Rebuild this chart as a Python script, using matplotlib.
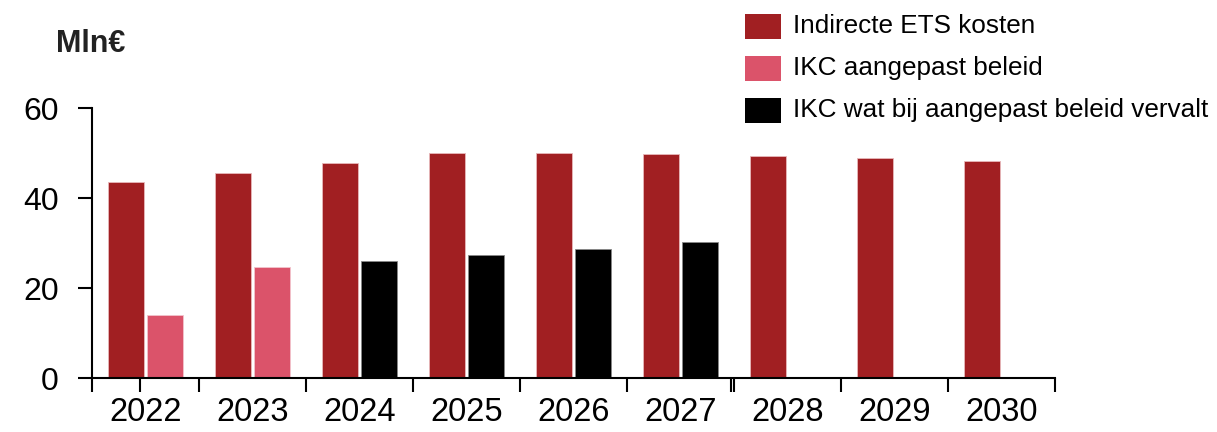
import matplotlib.pyplot as plt
from matplotlib.patches import Rectangle

plt.rcParams['font.family'] = ['Liberation Sans', 'DejaVu Sans']

years = ['2022', '2023', '2024', '2025', '2026', '2027', '2028', '2029', '2030']
ets_kosten = [43.6, 45.6, 47.8, 50.0, 50.0, 49.8, 49.3, 48.9, 48.2]
ikc_aangepast = [14.0, 24.7, 0, 0, 0, 0, 0, 0, 0]
ikc_vervalt = [0, 0, 26.0, 27.3, 28.7, 30.2, 0, 0, 0]

labels = ['Indirecte ETS kosten', 'IKC aangepast beleid', 'IKC wat bij aangepast beleid vervalt']
colors = ['#A11F22', '#DB536A', '#000000']

fig = plt.figure(figsize=(12.17, 4.32), dpi=100)
ax = fig.add_axes([92 / 1217, 1 - 378 / 432, (1055 - 92) / 1217, 270 / 432])

x = list(range(len(years)))
w = 0.34
off = 0.18
ax.bar([i - off for i in x], ets_kosten, w, color=colors[0], edgecolor='#E8B8BA', linewidth=0.6)
ax.bar([i + off for i in x], ikc_aangepast, w, color=colors[1], edgecolor='#F2C4CC', linewidth=0.6)
ax.bar([i + off for i in x], ikc_vervalt, w, color=colors[2], edgecolor='#888888', linewidth=0.6)

ax.set_xlim(-0.5, len(years) - 0.5)
ax.set_ylim(0, 60)
ax.set_yticks([0, 20, 40, 60])

# group boundaries as tick marks, labels at centres
bounds = [i - 0.5 for i in range(len(years) + 1)] + [-0.05, 5.47]
ax.set_xticks(bounds)
ax.set_xticklabels([])
ax.set_xticks(x, minor=True)
ax.set_xticklabels(years, minor=True)
ax.tick_params(axis='x', which='major', direction='out', length=10, width=1.5)
ax.tick_params(axis='x', which='minor', length=0, pad=14, labelsize=23.5)
ax.tick_params(axis='y', direction='out', length=10, width=1.5, pad=14, labelsize=23)

for s in ['top', 'right']:
    ax.spines[s].set_visible(False)
for s in ['left', 'bottom']:
    ax.spines[s].set_linewidth(1.5)

fig.text(56 / 1217, 1 - 44 / 432, 'Mln€', fontsize=22, fontweight='bold', color='#222222', va='center')

# legend
for k, (lab, col) in enumerate(zip(labels, colors)):
    yc = 26 + k * 42
    fig.patches.append(Rectangle((745 / 1217, 1 - (yc + 12.5) / 432), 36 / 1217, 25 / 432,
                                 transform=fig.transFigure, facecolor=col, edgecolor='none'))
    fig.text(793 / 1217, 1 - yc / 432, lab, fontsize=18.8, va='center', ha='left')

fig.savefig('out.png', dpi=100)
